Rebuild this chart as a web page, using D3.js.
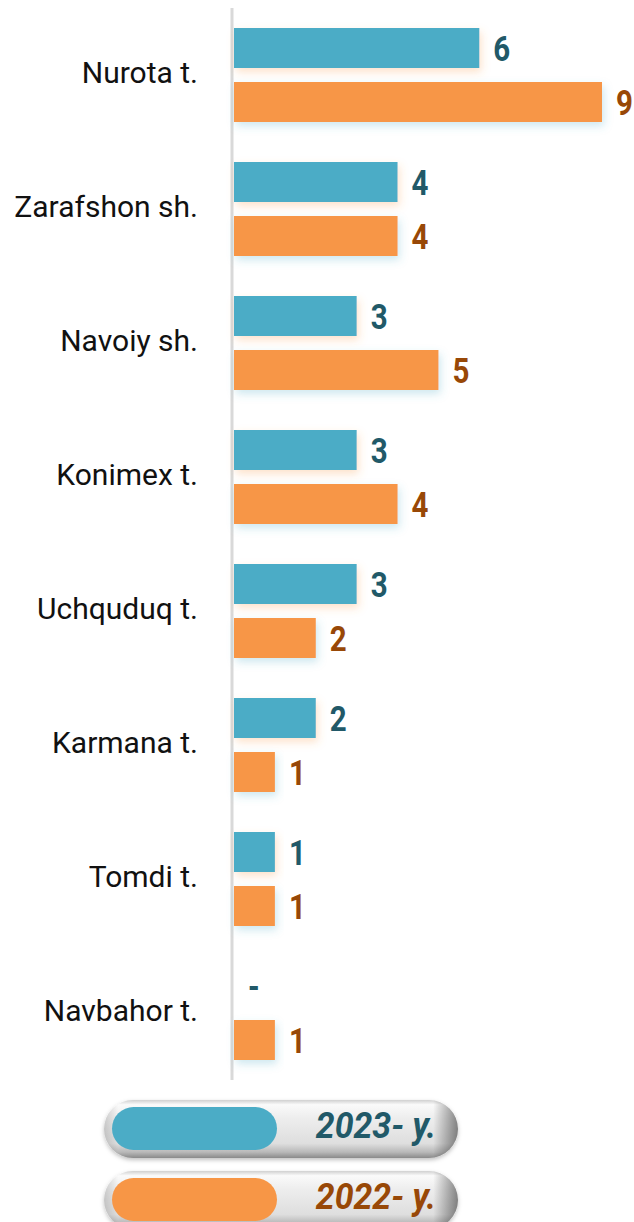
<!DOCTYPE html>
<html>
<head>
<meta charset="utf-8">
<script src="https://cdn.jsdelivr.net/npm/d3@7"></script>
<style>
  html, body { margin: 0; padding: 0; background: #ffffff; }
  svg { display: block; }
</style>
</head>
<body>
<svg id="chart" width="634" height="1222"></svg>
<script>
// ---- data ----
const categories = ["Nurota t.", "Zarafshon sh.", "Navoiy sh.", "Konimex t.", "Uchquduq t.", "Karmana t.", "Tomdi t.", "Navbahor t."];
const seriesNames = ["2023- y.", "2022- y."];
const values2023 = [6, 4, 3, 3, 3, 2, 1, 0];
const values2022 = [9, 4, 5, 4, 2, 1, 1, 1];
const valueLabels2023 = ["6", "4", "3", "3", "3", "2", "1", "-"];
const valueLabels2022 = ["9", "4", "5", "4", "2", "1", "1", "1"];

const barColors = ["#4bacc6", "#f79646"];
const labelColors = ["#215968", "#984807"];
const shadowColors = ["#f79646", "#4bacc6"];

const svg = d3.select("#chart");
const defs = svg.append("defs");

// shadows
shadowColors.forEach((c, i) => {
  const f = defs.append("filter").attr("id", "sh" + i)
    .attr("x", "-20%").attr("y", "-30%").attr("width", "140%").attr("height", "180%");
  f.append("feDropShadow").attr("dx", 2).attr("dy", 4).attr("stdDeviation", 4)
    .attr("flood-color", c).attr("flood-opacity", 0.28);
});

// scales
const x = d3.scaleLinear().domain([0, 9]).range([234, 602]);
const y = d3.scaleBand().domain(categories).range([8, 1080]).paddingInner(0.2985).paddingOuter(0.1493);
const ySub = d3.scaleBand().domain(seriesNames).range([0, y.bandwidth()]).paddingInner(14 / 54).paddingOuter(0);

const series = [
  { name: seriesNames[0], values: values2023, labels: valueLabels2023 },
  { name: seriesNames[1], values: values2022, labels: valueLabels2022 }
];

// axis line
const axis = svg.append("g").attr("transform", "translate(232,0)")
  .call(d3.axisLeft(y).tickSize(0).tickFormat(""));
axis.select(".domain").attr("stroke", "#d9d9d9").attr("stroke-width", 3)
  .attr("d", `M0,${y.range()[0]}V${y.range()[1]}`);

// category labels
svg.append("g").selectAll("text").data(categories).join("text")
  .attr("x", 198)
  .attr("y", d => y(d) + y.bandwidth() / 2 + 8)
  .attr("text-anchor", "end")
  .attr("font-family", "Roboto, sans-serif")
  .attr("font-size", 30)
  .attr("fill", "#111111")
  .text(d => d);

// bars
series.forEach((s, si) => {
  const g = svg.append("g");
  g.selectAll("rect").data(categories).join("rect")
    .attr("x", x(0))
    .attr("y", (c) => y(c) + ySub(s.name))
    .attr("width", (c, i) => Math.max(0, x(s.values[i]) - x(0)))
    .attr("height", ySub.bandwidth())
    .attr("fill", barColors[si])
    .attr("filter", `url(#sh${si})`);
  g.selectAll("g.lbl").data(categories).join("g").attr("class", "lbl")
    .attr("transform", (c, i) => `translate(${x(s.values[i]) + 14},${y(c) + ySub(s.name) + ySub.bandwidth() / 2 + 13}) scale(0.82,1)`)
    .append("text")
    .attr("font-family", "Roboto, sans-serif")
    .attr("font-weight", "bold")
    .attr("font-size", 36)
    .attr("fill", labelColors[si])
    .text((c, i) => s.labels[i]);
});

// legend
const pillGrad = defs.append("linearGradient").attr("id", "pillGrad").attr("x1", 0).attr("y1", 0).attr("x2", 0).attr("y2", 1);
[[0, "#d0d0d0"], [0.08, "#fafafa"], [0.3, "#eeeeee"], [0.75, "#dedede"], [0.9, "#b8b8b8"], [1, "#8a8a8a"]]
  .forEach(([o, c]) => pillGrad.append("stop").attr("offset", o).attr("stop-color", c));
const pillGradH = defs.append("linearGradient").attr("id", "pillGradH").attr("x1", 0).attr("y1", 0).attr("x2", 1).attr("y2", 0);
[[0, "#000", 0.15], [0.04, "#000", 0], [0.93, "#000", 0], [1, "#000", 0.45]]
  .forEach(([o, c, a]) => pillGradH.append("stop").attr("offset", o).attr("stop-color", c).attr("stop-opacity", a));
const lsh = defs.append("filter").attr("id", "lsh").attr("x", "-10%").attr("y", "-30%").attr("width", "120%").attr("height", "170%");
lsh.append("feDropShadow").attr("dx", 0).attr("dy", 2).attr("stdDeviation", 2).attr("flood-color", "#000").attr("flood-opacity", 0.25);

const legend = svg.append("g").selectAll("g").data(seriesNames).join("g")
  .attr("transform", (d, i) => `translate(104,${1100 + i * 71})`);
legend.append("rect").attr("width", 354).attr("height", 58).attr("rx", 29)
  .attr("fill", "url(#pillGrad)").attr("filter", "url(#lsh)");
legend.append("rect").attr("width", 354).attr("height", 58).attr("rx", 29)
  .attr("fill", "url(#pillGradH)");
legend.append("rect").attr("x", 8).attr("y", 7).attr("width", 165).attr("height", 43).attr("rx", 21.5)
  .attr("fill", (d, i) => barColors[i]);
legend.append("g").attr("transform", "translate(332,38) scale(0.94,1)")
  .append("text")
  .attr("text-anchor", "end")
  .attr("font-family", "Roboto, sans-serif")
  .attr("font-weight", "bold")
  .attr("font-style", "italic")
  .attr("font-size", 36)
  .attr("fill", (d, i) => labelColors[i])
  .text(d => d);
</script>
</body>
</html>
